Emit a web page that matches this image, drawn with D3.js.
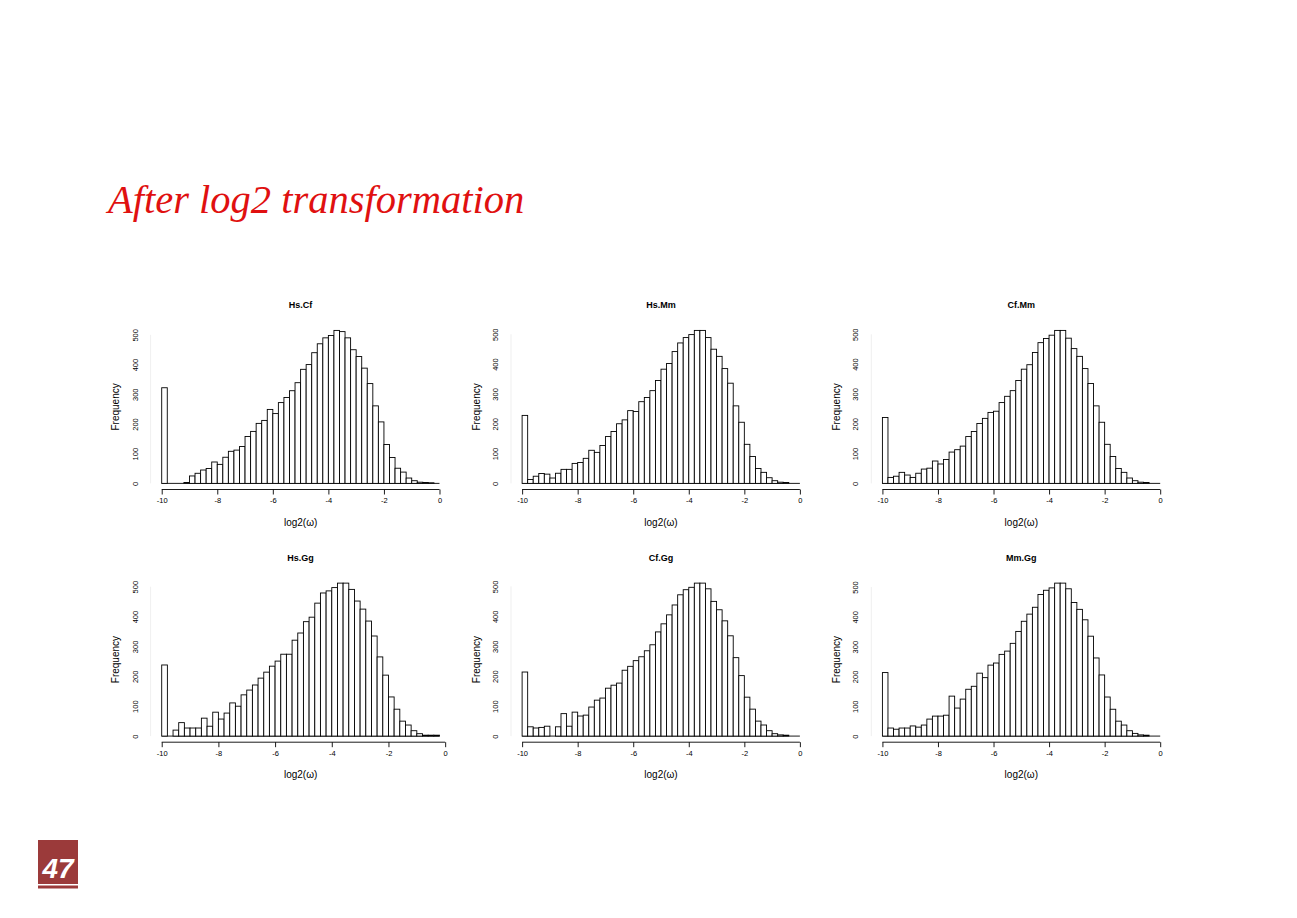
<!DOCTYPE html>
<html>
<head>
<meta charset="utf-8">
<script src="https://cdn.jsdelivr.net/npm/d3@7"></script>
<style>
  html, body { margin: 0; padding: 0; background: #ffffff; }
  svg { display: block; }
</style>
</head>
<body>
<svg id="chart" width="1297" height="918"></svg>
<script>
// ---- data ----
const pageTitle = "After log2 transformation";
const pageNumber = "47";
const panelTitles = ["Hs.Cf", "Hs.Mm", "Cf.Mm", "Hs.Gg", "Cf.Gg", "Mm.Gg"];
const xLabel = "log2(\u03c9)";
const yLabel = "Frequency";
const xTickValues = [-10, -8, -6, -4, -2, 0];
const yTickValues = [0, 100, 200, 300, 400, 500];
const breakStart = -10;
const binWidth = 0.2;

const countsHsCf = [322,0,0,0,3,25,34,45,50,72,64,88,108,112,124,158,175,202,212,249,235,272,289,312,339,384,400,440,470,490,498,515,511,490,450,427,388,336,261,207,131,87,51,38,18,9,4,3,2,0];
const countsHsMm = [228,13,24,33,31,18,34,47,47,67,70,84,111,104,127,157,174,200,213,244,241,274,288,311,345,383,402,442,471,489,499,513,513,489,450,426,385,336,260,205,131,90,50,37,19,9,4,3,0,0];
const countsCfMm = [221,20,24,37,28,20,34,48,51,75,65,80,105,113,125,157,174,201,218,238,242,271,292,311,345,383,398,439,472,486,497,513,513,487,452,426,385,335,260,205,131,90,50,37,18,9,4,3,0,0];
const countsHsGg = [238,0,20,45,27,27,27,60,33,80,57,77,111,100,138,154,171,194,214,234,251,274,274,321,345,383,398,445,479,486,497,512,512,491,452,425,385,335,265,204,131,90,50,37,18,8,3,3,3];
const countsCfGg = [214,31,27,29,33,0,31,75,33,80,67,70,97,120,127,160,170,177,220,233,252,265,285,305,348,375,405,438,472,489,497,511,511,492,450,422,385,335,262,202,130,90,50,37,18,8,4,3,0,0];
const countsMmGg = [213,27,23,27,27,34,30,37,57,67,67,70,134,94,124,157,167,211,196,238,245,274,285,311,351,385,409,432,475,489,497,513,513,494,448,425,390,335,262,205,131,90,50,37,18,9,4,3,0,0];

const panelCounts = [countsHsCf, countsHsMm, countsCfMm, countsHsGg, countsCfGg, countsMmGg];

// ---- layout ----
const svg = d3.select("#chart");
const W = 1297, H = 918;
svg.append("rect").attr("width", W).attr("height", H).attr("fill", "#ffffff");

const sans = "'Liberation Sans', Arial, Helvetica, sans-serif";

// slide title
svg.append("text")
  .attr("x", 108).attr("y", 213)
  .attr("font-family", "'Liberation Serif', 'Times New Roman', serif")
  .attr("font-style", "italic")
  .attr("font-size", 40.5)
  .attr("fill", "#e01010")
  .text(pageTitle);

// page number box
svg.append("rect").attr("x", 38).attr("y", 840).attr("width", 40).attr("height", 44).attr("fill", "#9b3a3a");
svg.append("rect").attr("x", 38).attr("y", 885.5).attr("width", 40).attr("height", 3).attr("fill", "#9b3a3a");
svg.append("text")
  .attr("x", 58).attr("y", 878)
  .attr("text-anchor", "middle")
  .attr("font-family", sans)
  .attr("font-style", "italic")
  .attr("font-weight", "bold")
  .attr("font-size", 28)
  .attr("fill", "#ffffff")
  .text(pageNumber);

// panels
const plotW = 300;
const colLeft = [150.6, 511, 871.3];
const rowTop = [324.3, 577];
const plotH = 165.2;

panelCounts.forEach((counts, i) => {
  const col = i % 3, row = Math.floor(i / 3);
  const L = colLeft[col], T = rowTop[row], R = L + plotW, B = T + plotH;

  const edges = d3.range(counts.length + 1).map(k => breakStart + k * binWidth);
  const bins = counts.map((c, k) => ({ x0: edges[k], x1: edges[k + 1], n: c }));

  const xMin = edges[0], xMax = edges[edges.length - 1];
  const xPad = (xMax - xMin) * 0.04;
  const x = d3.scaleLinear().domain([xMin - xPad, xMax + xPad]).range([L, R]);
  const yMax = d3.max(counts);
  const yPad = yMax * 0.04;
  const y = d3.scaleLinear().domain([-yPad, yMax + yPad]).range([B, T]);

  const g = svg.append("g");

  // baseline for zero-height bins (R draws them as flat rects)
  g.append("line")
    .attr("x1", x(xMin)).attr("x2", x(xMax))
    .attr("y1", y(0)).attr("y2", y(0))
    .attr("stroke", "#000").attr("stroke-width", 0.9);

  // bars
  g.selectAll("rect.bar").data(bins.filter(d => d.n > 0)).enter().append("rect")
    .attr("class", "bar")
    .attr("x", d => x(d.x0))
    .attr("width", d => x(d.x1) - x(d.x0))
    .attr("y", d => y(d.n))
    .attr("height", d => y(0) - y(d.n))
    .attr("fill", "#ffffff")
    .attr("stroke", "#000000")
    .attr("stroke-width", 0.9);

  // x axis
  const xAxis = d3.axisBottom(x).tickValues(xTickValues).tickSize(5).tickPadding(3)
    .tickFormat(d => String(d).replace("\u2212", "-"));
  const gx = g.append("g").attr("transform", `translate(0,${B})`).call(xAxis);
  gx.select(".domain").attr("d", `M${x(xTickValues[0])},0H${x(xTickValues[xTickValues.length - 1])}`)
    .attr("stroke", "#000").attr("stroke-width", 0.9);
  gx.selectAll(".tick line").attr("stroke", "#000").attr("stroke-width", 0.9);
  gx.selectAll(".tick text").attr("font-family", sans).attr("font-size", 7.5).attr("fill", "#000");

  // y axis (faint, as in reference)
  const yAxis = d3.axisLeft(y).tickValues(yTickValues).tickSize(0).tickPadding(0).tickFormat(d3.format("d"));
  const gy = g.append("g").attr("transform", `translate(${L},0)`).call(yAxis);
  gy.select(".domain").attr("d", `M0,${y(yTickValues[0])}V${y(yTickValues[yTickValues.length - 1])}`)
    .attr("stroke", "#e4e4e4").attr("stroke-width", 0.6);
  gy.selectAll(".tick text")
    .attr("font-family", sans).attr("font-size", 7.5).attr("fill", "#000")
    .attr("text-anchor", "middle")
    .attr("x", 0).attr("dy", "0.35em")
    .attr("transform", `translate(-15.6,0) rotate(-90)`);

  // titles
  g.append("text")
    .attr("x", (L + R) / 2).attr("y", T - 16)
    .attr("text-anchor", "middle")
    .attr("font-family", sans).attr("font-weight", "bold").attr("font-size", 9)
    .text(panelTitles[i]);

  g.append("text")
    .attr("x", (L + R) / 2).attr("y", B + 36)
    .attr("text-anchor", "middle")
    .attr("font-family", sans).attr("font-size", 10)
    .text(xLabel);

  g.append("text")
    .attr("transform", `translate(${L - 35},${(T + B) / 2}) rotate(-90)`)
    .attr("text-anchor", "middle").attr("dy", "0.35em")
    .attr("font-family", sans).attr("font-size", 10)
    .text(yLabel);
});
</script>
</body>
</html>
